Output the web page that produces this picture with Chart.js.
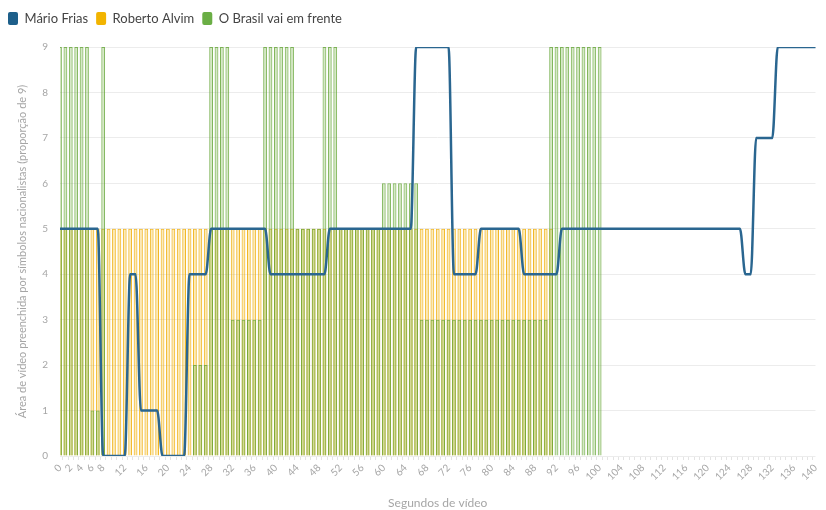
<!DOCTYPE html>
<html>
<head>
<meta charset="utf-8">
<script src="https://cdn.jsdelivr.net/npm/chart.js@4.4.0/dist/chart.umd.min.js"></script>
<style>
  html, body { margin: 0; padding: 0; background: #fff; }
  #wrap { width: 826px; height: 510px; }
</style>
</head>
<body>
<div id="wrap"><canvas id="chart" width="826" height="510"></canvas></div>
<script>
// seconds of video, one category per second
const seconds = [
  0, 1, 2, 3, 4, 5, 6, 7, 8, 9, 10, 11, 12, 13, 14, 15, 16, 17, 18, 19,
  20, 21, 22, 23, 24, 25, 26, 27, 28, 29, 30, 31, 32, 33, 34, 35, 36, 37, 38, 39,
  40, 41, 42, 43, 44, 45, 46, 47, 48, 49, 50, 51, 52, 53, 54, 55, 56, 57, 58, 59,
  60, 61, 62, 63, 64, 65, 66, 67, 68, 69, 70, 71, 72, 73, 74, 75, 76, 77, 78, 79,
  80, 81, 82, 83, 84, 85, 86, 87, 88, 89, 90, 91, 92, 93, 94, 95, 96, 97, 98, 99,
  100, 101, 102, 103, 104, 105, 106, 107, 108, 109, 110, 111, 112, 113, 114, 115, 116, 117, 118, 119,
  120, 121, 122, 123, 124, 125, 126, 127, 128, 129, 130, 131, 132, 133, 134, 135, 136, 137, 138, 139,
  140
];

// labels actually printed under the axis
const shownTicks = [0, 2, 4, 6, 8, 12, 16, 20, 24, 28, 32, 36, 40, 44, 48, 52, 56, 60, 64, 68, 72,
  76, 80, 84, 88, 92, 96, 100, 104, 108, 112, 116, 120, 124, 128, 132, 136, 140];

// Mário Frias (line)
const marioFrias = [
  5, 5, 5, 5, 5, 5, 5, 5,            // 0-7
  0, 0, 0, 0, 0,                     // 8-12
  4, 4,                              // 13-14
  1, 1, 1, 1,                        // 15-18
  0, 0, 0, 0, 0,                     // 19-23
  4, 4, 4, 4,                        // 24-27
  5, 5, 5, 5, 5, 5, 5, 5, 5, 5, 5,   // 28-38
  4, 4, 4, 4, 4, 4, 4, 4, 4, 4, 4,   // 39-49
  5, 5, 5, 5, 5, 5, 5, 5, 5, 5, 5, 5, 5, 5, 5, 5, // 50-65
  9, 9, 9, 9, 9, 9, 9,               // 66-72
  4, 4, 4, 4, 4,                     // 73-77
  5, 5, 5, 5, 5, 5, 5, 5,            // 78-85
  4, 4, 4, 4, 4, 4, 4,               // 86-92
  5, 5, 5, 5, 5, 5, 5, 5, 5, 5, 5, 5, 5, 5, 5, 5, 5,   // 93-109
  5, 5, 5, 5, 5, 5, 5, 5, 5, 5, 5, 5, 5, 5, 5, 5, 5,   // 110-126
  4, 4,                              // 127-128
  7, 7, 7, 7,                        // 129-132
  9, 9, 9, 9, 9, 9, 9, 9             // 133-140
];

// Roberto Alvim (bars)
const robertoAlvim = [
  5, 5, 5, 5, 5, 5, 5, 5, 5, 5, 5, 5, 5, 5, 5, 5, 5, 5, 5, 5,   // 0-19
  5, 5, 5, 5, 5, 5, 5, 5, 5, 5, 5, 5, 5, 5, 5, 5, 5, 5, 5, 5,   // 20-39
  5, 5, 5, 5, 5, 5, 5, 5, 5, 5, 5, 5, 5, 5, 5, 5, 5, 5, 5, 5,   // 40-59
  5, 5, 5, 5, 5, 5, 5, 5, 5, 5, 5, 5, 5, 5, 5, 5, 5, 5, 5, 5,   // 60-79
  5, 5, 5, 5, 5, 5, 5, 5, 5, 5, 5, 5,                           // 80-91
  null, null, null, null, null, null, null, null,               // 92-99
  null, null, null, null, null, null, null, null, null, null,   // 100-109
  null, null, null, null, null, null, null, null, null, null,   // 110-119
  null, null, null, null, null, null, null, null, null, null,   // 120-129
  null, null, null, null, null, null, null, null, null, null,   // 130-139
  null                                                          // 140
];

// O Brasil vai em frente (bars)
const brasilVaiEmFrente = [
  9, 9, 9, 9, 9, 9,                  // 0-5
  1, 1,                              // 6-7
  9,                                 // 8
  0, 0, 0, 0, 0, 0, 0, 0, 0, 0, 0, 0, 0, 0, 0, 0, // 9-24
  2, 2, 2,                           // 25-27
  9, 9, 9, 9,                        // 28-31
  3, 3, 3, 3, 3, 3,                  // 32-37
  9, 9, 9, 9, 9, 9,                  // 38-43
  5, 5, 5, 5, 5,                     // 44-48
  9, 9, 9,                           // 49-51
  5, 5, 5, 5, 5, 5, 5, 5,            // 52-59
  6, 6, 6, 6, 6, 6, 6,               // 60-66
  3, 3, 3, 3, 3, 3, 3, 3, 3, 3, 3, 3, 3, 3, 3, 3, 3, 3, 3, 3, 3, 3, 3, 3, // 67-90
  9, 9, 9, 9, 9, 9, 9, 9, 9, 9,      // 91-100
  null, null, null, null, null, null, null, null, null, null,   // 101-110
  null, null, null, null, null, null, null, null, null, null,   // 111-120
  null, null, null, null, null, null, null, null, null, null,   // 121-130
  null, null, null, null, null, null, null, null, null, null    // 131-140
];

const legendColors = ['#1d5f8a', '#f2b400', '#6aae45'];
const grey = '#a6a6a6';

// push the plot down a bit below the legend
const legendGap = {
  id: 'legendGap',
  beforeInit(chart) {
    const fit = chart.legend.fit;
    chart.legend.fit = function () {
      fit.bind(chart.legend)();
      this.height += 12;
    };
  }
};

new Chart(document.getElementById('chart'), {
  type: 'bar',
  data: {
    labels: seconds,
    datasets: [
      {
        type: 'line',
        label: 'Mário Frias',
        data: marioFrias,
        borderColor: '#2a6690',
        borderWidth: 2.5,
        pointRadius: 0,
        cubicInterpolationMode: 'monotone',
        fill: false,
        order: 0
      },
      {
        label: 'Roberto Alvim',
        data: robertoAlvim,
        backgroundColor: 'rgba(245, 190, 40, 0.32)',
        borderColor: 'rgba(238, 172, 0, 0.85)',
        borderWidth: 1,
        borderSkipped: 'bottom',
        grouped: false,
        barPercentage: 0.7,
        categoryPercentage: 1,
        order: 2
      },
      {
        label: 'O Brasil vai em frente',
        data: brasilVaiEmFrente,
        backgroundColor: 'rgba(120, 178, 70, 0.30)',
        borderColor: 'rgba(104, 168, 60, 0.85)',
        borderWidth: 1,
        borderSkipped: 'bottom',
        grouped: false,
        barPercentage: 0.7,
        categoryPercentage: 1,
        order: 1
      }
    ]
  },
  options: {
    responsive: false,
    animation: false,
    layout: { padding: { left: 0, right: 9, top: 4, bottom: 0 } },
    plugins: {
      tooltip: { enabled: false },
      legend: {
        position: 'top',
        align: 'start',
        labels: {
          boxWidth: 10,
          boxHeight: 13,
          padding: 8,
          useBorderRadius: true,
          borderRadius: 2,
          font: { family: 'Lato', size: 13 },
          color: '#444',
          generateLabels: chart => chart.data.datasets.map((ds, i) => ({
            text: ds.label,
            fillStyle: legendColors[i],
            strokeStyle: legendColors[i],
            lineWidth: 0,
            borderRadius: 2,
            fontColor: '#444',
            datasetIndex: i,
            hidden: false
          }))
        }
      }
    },
    scales: {
      x: {
        offset: false,
        grid: { drawOnChartArea: false, tickLength: 4, color: '#e4e4e4' },
        border: { display: false },
        ticks: {
          autoSkip: false,
          minRotation: 45,
          maxRotation: 45,
          padding: 2,
          color: grey,
          font: { family: 'Lato', size: 10 },
          callback: (value, index) => shownTicks.includes(seconds[index]) ? String(seconds[index]) : ''
        },
        title: {
          display: true,
          text: 'Segundos de vídeo',
          color: grey,
          font: { family: 'Lato', size: 12 },
          padding: 0
        },
        afterFit: scale => { scale.height = 54; }
      },
      y: {
        min: 0,
        max: 9,
        grid: { color: '#ececec', drawTicks: false },
        border: { display: false },
        ticks: {
          stepSize: 1,
          padding: 12,
          color: grey,
          font: { family: 'Lato', size: 10 }
        },
        title: {
          display: true,
          text: 'Área de vídeo preenchida por símbolos nacionalistas (proporção de 9)',
          color: grey,
          font: { family: 'Lato', size: 11 },
          padding: { top: 16, bottom: 0 }
        },
        afterFit: scale => { scale.width = 60; }
      }
    }
  },
  plugins: [legendGap]
});
</script>
</body>
</html>
